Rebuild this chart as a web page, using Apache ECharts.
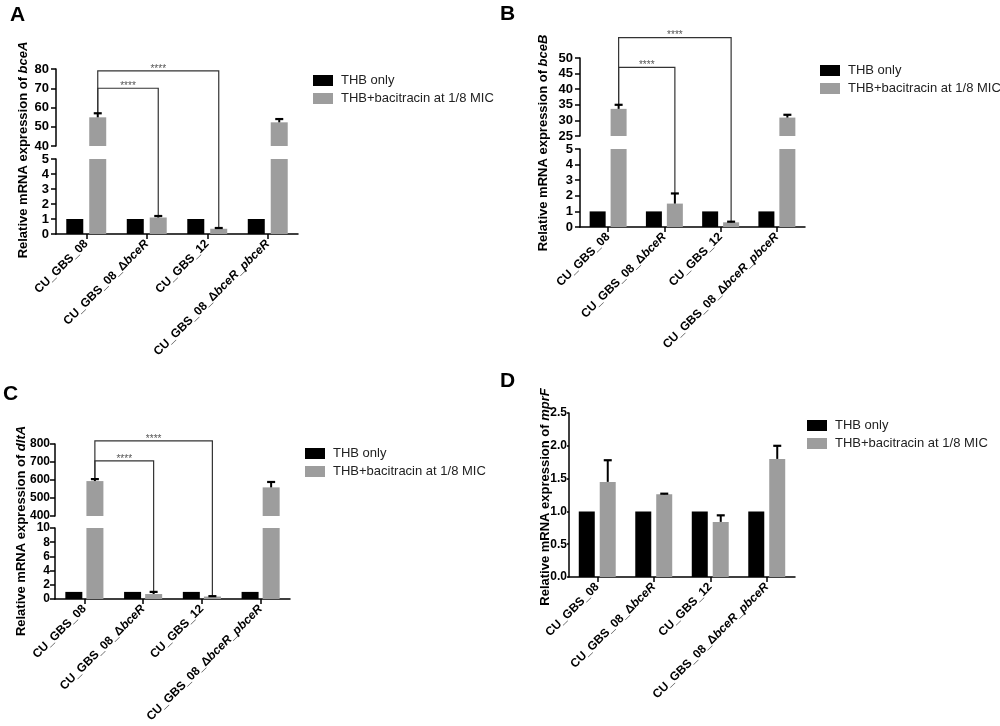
<!DOCTYPE html>
<html>
<head>
<meta charset="utf-8">
<title>Relative mRNA expression</title>
<script src="https://cdn.jsdelivr.net/npm/echarts@6/dist/echarts.min.js"></script>
<style>
    html, body { margin: 0; padding: 0; background: #fff; }
    #chart { width: 1000px; height: 726px; }
</style>
</head>
<body>
<div id="chart"></div>
<script>
// strains on the x axis, same for every panel
var strains = ['CU_GBS_08', 'CU_GBS_08_ΔbceR', 'CU_GBS_12', 'CU_GBS_08_ΔbceR_pbceR'];
var legendNames = ['THB only', 'THB+bacitracin at 1/8 MIC'];

// A - bceA
var thbA = [1, 1, 1, 1];
var bacA = [54.9, 1.1, 0.35, 52.3];
var errA = [2.1, 0.1, 0.05, 1.7];
var lowA = [0, 5, 1];        // min, max, interval
var highA = [40, 80, 10];
var bracketsA = [[0, 1, 70], [0, 2, 79]];   // from, to, level

// B - bceB
var thbB = [1, 1, 1, 1];
var bacB = [33.7, 1.5, 0.3, 30.9];
var errB = [1.3, 0.65, 0.04, 0.9];
var lowB = [0, 5, 1];
var highB = [25, 50, 5];
var bracketsB = [[0, 1, 47], [0, 2, 56.5]];

// C - dltA
var thbC = [1, 1, 1, 1];
var bacC = [594, 0.7, 0.35, 559];
var errC = [11, 0.3, 0.05, 30];
var lowC = [0, 10, 2];
var highC = [400, 800, 100];
var bracketsC = [[0, 1, 706], [0, 2, 817]];

// D - mprF
var thbD = [1, 1, 1, 1];
var bacD = [1.45, 1.26, 0.84, 1.80];
var errD = [0.33, 0.01, 0.10, 0.20];
var rangeD = [0, 2.5, 0.5];

var FONT = 'Arial, "Liberation Sans", sans-serif';
var GRAY = '#9d9d9d';

var option = {
    animation: false,
    backgroundColor: '#fff',
    textStyle: { fontFamily: FONT },
    legend: [],
    grid: [],
    xAxis: [],
    yAxis: [],
    series: []
};

function strainLabel(s) {
    return s.replace(/Δ(bceR)/, 'Δ{i|$1}').replace(/_(pbceR)$/, '_{i|$1}');
}

// one grid = one piece of a (possibly broken) y axis
function addGrid(box, range, showX, fmt, ySize, yMargin, yTick) {
    var gi = option.grid.length;
    option.grid.push({
        left: box[0], top: box[1], width: box[2], height: box[3],
        containLabel: false, outerBoundsMode: 'none'
    });
    option.xAxis.push({
        type: 'category', gridIndex: gi, data: strains, show: showX,
        axisLine: { show: true, onZero: false, lineStyle: { color: '#000', width: 1.5 } },
        axisTick: { show: true, alignWithLabel: true, length: 5, lineStyle: { color: '#000', width: 1.5 } },
        axisLabel: {
            rotate: 45, interval: 0, margin: 8, color: '#000', fontSize: 12, fontWeight: 'bold',
            fontFamily: FONT, formatter: strainLabel,
            rich: { i: { fontStyle: 'italic', fontWeight: 'bold', fontSize: 12, fontFamily: FONT, color: '#000' } }
        },
        splitLine: { show: false }
    });
    option.yAxis.push({
        type: 'value', gridIndex: gi, min: range[0], max: range[1], interval: range[2],
        axisLine: { show: true, lineStyle: { color: '#000', width: 1.5 } },
        axisTick: { show: true, length: yTick || 5, lineStyle: { color: '#000', width: 1.5 } },
        axisLabel: { color: '#000', fontSize: ySize || 13, fontWeight: 'bold', fontFamily: FONT,
                     margin: yMargin || 7, formatter: fmt },
        splitLine: { show: false }
    });
    return gi;
}

function errRender(range, off) {
    return function (params, api) {
        var v = api.value(1), e = api.value(2);
        if (v < range[0] || v > range[1]) return;
        var top = api.coord([api.value(0), v]);
        var cap = api.coord([api.value(0), v + e]);
        var x = top[0] + off;
        return {
            type: 'group',
            children: [
                { type: 'line', shape: { x1: x, y1: top[1], x2: x, y2: cap[1] }, style: { stroke: '#000', lineWidth: 2 } },
                { type: 'line', shape: { x1: x - 4, y1: cap[1], x2: x + 4, y2: cap[1] }, style: { stroke: '#000', lineWidth: 2.2 } }
            ]
        };
    };
}

function addBars(gi, range, thb, bac, err, bw, gap) {
    option.series.push({
        type: 'bar', name: legendNames[0], xAxisIndex: gi, yAxisIndex: gi, data: thb,
        barWidth: bw, barGap: Math.round(gap / bw * 100) + '%', clip: true,
        itemStyle: { color: '#000' }
    });
    option.series.push({
        type: 'bar', name: legendNames[1], xAxisIndex: gi, yAxisIndex: gi, data: bac,
        barWidth: bw, barGap: Math.round(gap / bw * 100) + '%', clip: true,
        itemStyle: { color: GRAY }
    });
    option.series.push({
        type: 'custom', xAxisIndex: gi, yAxisIndex: gi,
        data: bac.map(function (v, i) { return [i, v, err[i]]; }),
        encode: { x: 0, y: 1 },
        renderItem: errRender(range, (bw + gap) / 2),
        z: 5
    });
}

function addLegend(left, top) {
    option.legend.push({
        orient: 'vertical', left: left, top: top, padding: 0,
        itemWidth: 20, itemHeight: 11, itemGap: 5, icon: 'rect',
        selectedMode: false, data: legendNames,
        textStyle: { fontSize: 13, color: '#222', fontFamily: FONT, padding: [0, 0, 0, 3] }
    });
}

// panels with broken axes
var panels = [
    { letter: 'A', gene: 'bceA', thb: thbA, bac: bacA, err: errA, low: lowA, high: highA, brackets: bracketsA,
      hiBox: [56, 69, 242, 77], loBox: [56, 159, 242, 75], bw: 17, gap: 6, ySize: 13, yMargin: 7,
      letterPos: [10, 5], titlePos: [23, 150], legendPos: [313, 74] },
    { letter: 'B', gene: 'bceB', thb: thbB, bac: bacB, err: errB, low: lowB, high: highB, brackets: bracketsB,
      hiBox: [580, 58, 225, 78], loBox: [580, 149, 225, 78], bw: 16, gap: 5, ySize: 13, yMargin: 7,
      letterPos: [500, 4], titlePos: [543, 143], legendPos: [820, 64] },
    { letter: 'C', gene: 'dltA', thb: thbC, bac: bacC, err: errC, low: lowC, high: highC, brackets: bracketsC,
      hiBox: [55, 444, 235, 72], loBox: [55, 528, 235, 71], bw: 17, gap: 4, ySize: 12, yMargin: 5,
      letterPos: [3, 384], titlePos: [21, 531], legendPos: [305, 447] }
];

panels.forEach(function (p) {
    p.hi = addGrid(p.hiBox, p.high, false, null, p.ySize, p.yMargin);
    addBars(p.hi, p.high, p.thb, p.bac, p.err, p.bw, p.gap);
    p.lo = addGrid(p.loBox, p.low, true, null, p.ySize, p.yMargin);
    addBars(p.lo, p.low, p.thb, p.bac, p.err, p.bw, p.gap);
    addLegend(p.legendPos[0], p.legendPos[1]);
});

// panel D, one plain axis with tick labels hugging the axis
var gD = addGrid([569, 413, 226, 164], rangeD, true, function (v) { return v.toFixed(1); }, 12, 2, 2);
addBars(gD, rangeD, thbD, bacD, errD, 16, 5);
addLegend(807, 419);

var chart = echarts.init(document.getElementById('chart'));
chart.setOption(option);

// texts and significance brackets, placed through the chart's own scales
var graphics = [];

function addText(x, y, txt, size, rot, gene) {
    var st = {
        text: txt, fontSize: size, fontWeight: 'bold', fontFamily: FONT, fill: '#000',
        align: rot ? 'center' : 'left', verticalAlign: rot ? 'middle' : 'top',
        textAlign: rot ? 'center' : 'left', textVerticalAlign: rot ? 'middle' : 'top'
    };
    if (gene) {
        st.rich = { i: { fontStyle: 'italic', fontWeight: 'bold', fontSize: size, fontFamily: FONT, fill: '#000', color: '#000' } };
    }
    graphics.push({ type: 'text', x: x, y: y, rotation: rot ? Math.PI / 2 : 0, style: st, silent: true });
}

panels.forEach(function (p) {
    addText(p.letterPos[0], p.letterPos[1], p.letter, 21, false);
    addText(p.titlePos[0], p.titlePos[1], 'Relative mRNA expression of {i|' + p.gene + '}', 13, true, true);

    var off = (p.bw + p.gap) / 2;
    function yOf(v) {
        var g = v <= p.low[1] ? p.lo : p.hi;
        return chart.convertToPixel({ gridIndex: g }, [0, v])[1];
    }
    p.brackets.forEach(function (b) {
        var a = chart.convertToPixel({ gridIndex: p.hi }, [b[0], b[2]]);
        var c = chart.convertToPixel({ gridIndex: p.hi }, [b[1], b[2]]);
        var x1 = a[0] + off, x2 = c[0] + off, yTop = a[1];
        var y1 = yOf(p.bac[b[0]] + p.err[b[0]]);
        var y2 = yOf(p.bac[b[1]] + p.err[b[1]]);
        graphics.push({
            type: 'polyline', silent: true,
            shape: { points: [[x1, y1], [x1, yTop], [x2, yTop], [x2, y2]] },
            style: { stroke: '#333', lineWidth: 1.2, fill: null }
        });
        graphics.push({
            type: 'text', silent: true, x: (x1 + x2) / 2, y: yTop + 3,
            style: { text: '****', fontSize: 10, fill: '#555', fontFamily: FONT,
                     align: 'center', verticalAlign: 'bottom', textAlign: 'center', textVerticalAlign: 'bottom' }
        });
    });
});

addText(500, 371, 'D', 21, false);
addText(545, 497, 'Relative mRNA expression of {i|mprF}', 13, true, true);

chart.setOption({ graphic: graphics });
</script>
</body>
</html>
